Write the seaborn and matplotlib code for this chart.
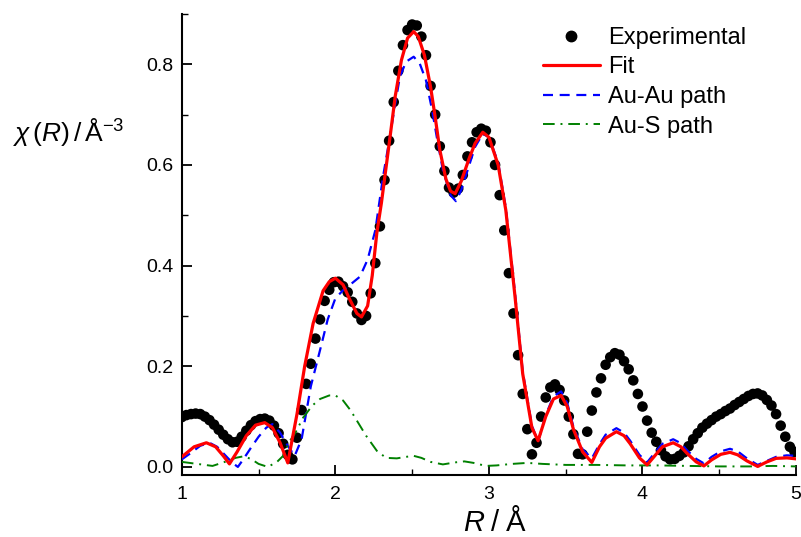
import numpy as np
import pandas as pd
import seaborn as sns
import matplotlib
matplotlib.use("Agg")
import matplotlib.pyplot as plt
from matplotlib.ticker import MultipleLocator
from matplotlib.lines import Line2D

# experimental chi(R), read on a regular 0.03 A grid starting at R = 1.00
exp_chi = [0.099, 0.103, 0.105, 0.106, 0.105, 0.100, 0.093, 0.084, 0.074, 0.064,
           0.055, 0.049, 0.050, 0.060, 0.072, 0.083, 0.091, 0.095, 0.096, 0.092,
           0.082, 0.067, 0.046, 0.024, 0.015, 0.058, 0.113, 0.165, 0.205, 0.255,
           0.293, 0.330, 0.352, 0.367, 0.368, 0.359, 0.347, 0.328, 0.305, 0.292,
           0.300, 0.345, 0.405, 0.478, 0.570, 0.648, 0.725, 0.787, 0.838, 0.868,
           0.879, 0.877, 0.855, 0.818, 0.757, 0.700, 0.637, 0.588, 0.555, 0.545,
           0.553, 0.580, 0.617, 0.645, 0.665, 0.672, 0.668, 0.645, 0.600, 0.540,
           0.470, 0.385, 0.305, 0.222, 0.145, 0.075, 0.025, 0.048, 0.100, 0.138,
           0.158, 0.164, 0.153, 0.132, 0.100, 0.065, 0.026, 0.025, 0.070, 0.112,
           0.148, 0.176, 0.203, 0.218, 0.226, 0.223, 0.210, 0.194, 0.172, 0.145,
           0.120, 0.092, 0.068, 0.050, 0.033, 0.021, 0.015, 0.016, 0.022, 0.029,
           0.041, 0.055, 0.067, 0.078, 0.086, 0.093, 0.100, 0.105, 0.111, 0.116,
           0.123, 0.129, 0.135, 0.141, 0.145, 0.146, 0.142, 0.133, 0.122, 0.105,
           0.082, 0.060, 0.040, 0.030]
exp_r = 1.0 + 0.03 * np.arange(len(exp_chi))

fit_r = [1.00, 1.08, 1.16, 1.22, 1.27, 1.31, 1.36, 1.42, 1.48, 1.54, 1.59, 1.64, 1.69,
         1.75, 1.80, 1.855, 1.92, 1.96, 2.00, 2.05, 2.09, 2.14, 2.17, 2.21, 2.24, 2.27,
         2.30, 2.36, 2.39, 2.43, 2.47, 2.51, 2.54, 2.58, 2.62, 2.65, 2.68, 2.72, 2.75,
         2.78, 2.82, 2.87, 2.91, 2.96, 3.00, 3.06, 3.11, 3.17, 3.22, 3.28, 3.32, 3.37,
         3.42, 3.47, 3.51, 3.55, 3.61, 3.67, 3.72, 3.76, 3.83, 3.88, 3.92, 3.98, 4.03,
         4.08, 4.13, 4.20, 4.25, 4.29, 4.35, 4.40, 4.45, 4.51, 4.57, 4.62, 4.68, 4.75,
         4.81, 4.87, 4.94, 5.00]
fit_chi = [0.020, 0.040, 0.048, 0.040, 0.022, 0.006, 0.030, 0.062, 0.083, 0.088, 0.078,
           0.048, 0.008, 0.105, 0.200, 0.285, 0.350, 0.368, 0.375, 0.362, 0.335, 0.305,
           0.298, 0.320, 0.380, 0.465, 0.525, 0.665, 0.737, 0.808, 0.852, 0.865, 0.855,
           0.818, 0.755, 0.695, 0.630, 0.572, 0.548, 0.543, 0.568, 0.612, 0.643, 0.665,
           0.655, 0.600, 0.510, 0.338, 0.185, 0.078, 0.052, 0.100, 0.135, 0.142, 0.120,
           0.075, 0.030, 0.009, 0.040, 0.057, 0.070, 0.062, 0.046, 0.018, 0.004, 0.022,
           0.040, 0.048, 0.040, 0.027, 0.010, 0.002, 0.014, 0.025, 0.029, 0.024, 0.012,
           0.001, 0.010, 0.017, 0.018, 0.016]

auau_r = [1.00, 1.06, 1.12, 1.18, 1.23, 1.28, 1.33, 1.365, 1.40, 1.45, 1.50, 1.55, 1.59,
          1.64, 1.69, 1.735, 1.78, 1.84, 1.90, 1.95, 2.00, 2.05, 2.10, 2.16, 2.21, 2.26,
          2.31, 2.355, 2.39, 2.42, 2.46, 2.51, 2.55, 2.59, 2.63, 2.66, 2.70, 2.75, 2.785,
          2.82, 2.87, 2.91, 2.96, 3.00, 3.06, 3.11, 3.17, 3.22, 3.28, 3.32, 3.37, 3.42,
          3.47, 3.51, 3.55, 3.61, 3.67, 3.72, 3.76, 3.83, 3.88, 3.92, 3.98, 4.03, 4.08,
          4.13, 4.20, 4.25, 4.29, 4.35, 4.40, 4.45, 4.51, 4.57, 4.62, 4.68, 4.75, 4.81,
          4.87, 4.94, 5.00]
auau_chi = [0.015, 0.028, 0.042, 0.048, 0.040, 0.024, 0.008, 0.000, 0.015, 0.038, 0.060,
            0.078, 0.085, 0.068, 0.042, 0.022, 0.055, 0.160, 0.232, 0.293, 0.335, 0.351,
            0.363, 0.378, 0.412, 0.470, 0.576, 0.656, 0.722, 0.775, 0.805, 0.815, 0.801,
            0.768, 0.709, 0.656, 0.590, 0.540, 0.528, 0.550, 0.598, 0.636, 0.662, 0.655,
            0.605, 0.515, 0.345, 0.190, 0.082, 0.050, 0.103, 0.140, 0.150, 0.127, 0.080,
            0.035, 0.017, 0.045, 0.064, 0.077, 0.068, 0.052, 0.024, 0.009, 0.028, 0.046,
            0.055, 0.047, 0.033, 0.016, 0.007, 0.020, 0.031, 0.036, 0.031, 0.017, 0.004,
            0.012, 0.020, 0.023, 0.022]

aus_r = [1.00, 1.10, 1.20, 1.28, 1.35, 1.40, 1.45, 1.50, 1.56, 1.62, 1.66, 1.70, 1.74,
         1.79, 1.85, 1.90, 1.96, 2.00, 2.05, 2.10, 2.14, 2.20, 2.27, 2.33, 2.40, 2.46,
         2.51, 2.56, 2.62, 2.70, 2.78, 2.84, 2.90, 2.98, 3.05, 3.15, 3.25, 3.35, 3.50,
         3.70, 3.90, 4.10, 4.30, 4.50, 4.70, 4.85, 5.00]
aus_chi = [0.010, 0.006, 0.002, 0.010, 0.018, 0.021, 0.016, 0.006, 0.000, 0.010, 0.022,
           0.050, 0.068, 0.098, 0.122, 0.135, 0.142, 0.142, 0.132, 0.112, 0.092, 0.062,
           0.032, 0.018, 0.017, 0.020, 0.022, 0.018, 0.010, 0.005, 0.009, 0.011, 0.008,
           0.002, 0.003, 0.006, 0.008, 0.006, 0.004, 0.004, 0.003, 0.003, 0.002, 0.001,
           0.001, 0.002, 0.001]

sns.set_theme(style="ticks")
plt.rcParams["font.family"] = ["Liberation Sans", "DejaVu Sans"]
plt.rcParams["mathtext.fontset"] = "custom"
plt.rcParams["mathtext.rm"] = "Liberation Sans"
plt.rcParams["mathtext.it"] = "Liberation Sans:italic"
plt.rcParams["text.color"] = "black"
plt.rcParams["axes.labelcolor"] = "black"

df_exp = pd.DataFrame({"R": exp_r, "chi": exp_chi})
df_fit = pd.DataFrame({"R": fit_r, "chi": fit_chi})
df_auau = pd.DataFrame({"R": auau_r, "chi": auau_chi})
df_aus = pd.DataFrame({"R": aus_r, "chi": aus_chi})

fig = plt.figure(figsize=(8.01, 5.37), dpi=100)
ax = fig.add_axes([0.227, 0.1155, 0.7668, 0.8585])

sns.scatterplot(data=df_exp, x="R", y="chi", ax=ax, color="black", s=58,
                edgecolor="none", zorder=2, legend=False)
sns.lineplot(data=df_auau, x="R", y="chi", ax=ax, color="#0000ff", lw=1.6,
             zorder=3, legend=False)
sns.lineplot(data=df_aus, x="R", y="chi", ax=ax, color="#008000", lw=1.4,
             zorder=3, legend=False)
sns.lineplot(data=df_fit, x="R", y="chi", ax=ax, color="#ff0000", lw=2.3,
             zorder=4, legend=False)
ax.lines[0].set_linestyle((0, (4.5, 3)))
ax.lines[1].set_linestyle((0, (6, 3, 1, 3)))

ax.set_xlim(1, 5)
ax.set_ylim(-0.016, 0.9)
ax.xaxis.set_major_locator(MultipleLocator(1))
ax.xaxis.set_minor_locator(MultipleLocator(0.5))
ax.yaxis.set_major_locator(MultipleLocator(0.2))
ax.yaxis.set_minor_locator(MultipleLocator(0.1))
ax.yaxis.set_major_formatter(matplotlib.ticker.FormatStrFormatter("%.1f"))
ax.tick_params(which="major", direction="in", length=7, width=1.3, labelsize=14,
               colors="black", labelcolor="black")
ax.tick_params(axis="x", which="major", pad=8)
ax.tick_params(axis="y", which="major", pad=6)
ax.tick_params(which="minor", direction="in", length=4, width=1.0, colors="black")
for side in ["top", "right"]:
    ax.spines[side].set_visible(False)
for side in ["left", "bottom"]:
    ax.spines[side].set_linewidth(1.5)
    ax.spines[side].set_color("black")

ax.set_xlabel(r"$R\;/\;\mathrm{Å}$", fontsize=21, va="center")
ax.xaxis.set_label_coords(0.51, -0.103)
ax.set_ylabel(r"$\chi\,(R)\,/\,\mathrm{Å}^{-3}$", fontsize=19, rotation=0,
              ha="center", va="center")
ax.yaxis.set_label_coords(-0.185, 0.745)

handles = [
    Line2D([], [], ls="none", marker="o", color="black", markersize=7.5),
    Line2D([], [], color="#ff0000", lw=2.3),
    Line2D([], [], color="#0000ff", lw=1.6, ls=(0, (4.5, 3))),
    Line2D([], [], color="#008000", lw=1.4, ls=(0, (6, 3, 1, 3))),
]
labels = ["Experimental", "Fit", "Au-Au path", "Au-S path"]
ax.legend(handles, labels, loc="upper left", bbox_to_anchor=(0.588, 0.972),
          frameon=False, fontsize=17, handlelength=2.4, handletextpad=0.35,
          labelspacing=0.32, borderpad=0, borderaxespad=0)

fig.savefig("out.png", dpi=100)
